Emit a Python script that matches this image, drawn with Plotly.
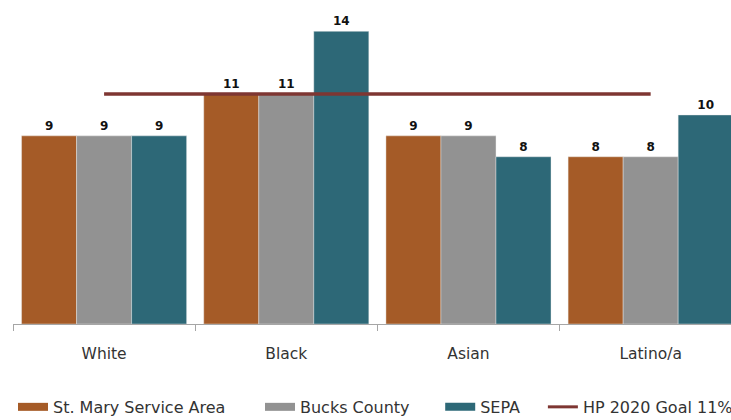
import plotly.graph_objects as go

# Categories and series values
groups = ["White", "Black", "Asian", "Latino/a"]
st_mary = [9, 11, 9, 8]
bucks = [9, 11, 9, 8]
sepa = [9, 14, 8, 10]
hp_goal = [11, 11, 11, 11]

series = [
    ("St. Mary Service Area", st_mary, "#A55B27", "legend"),
    ("Bucks County", bucks, "#929292", "legend2"),
    ("SEPA", sepa, "#2D6877", "legend3"),
]
goal_name = "HP 2020 Goal 11%"
goal_color = "#7E3632"

FONT = "DejaVu Sans"
TEXT_COLOR = "#333333"

fig = go.Figure()

for name, vals, color, lg in series:
    fig.add_trace(go.Bar(
        x=groups, y=vals, name=name,
        marker=dict(color=color, line=dict(color="rgba(235,235,235,0.7)", width=0.6)),
        text=vals, texttemplate="<b>%{text}</b>", textposition="outside",
        textfont=dict(family=FONT, size=12, color="#111111"),
        cliponaxis=False, showlegend=False, legendgroup=name,
    ))

fig.add_trace(go.Scatter(
    x=groups, y=hp_goal, name=goal_name, mode="lines",
    line=dict(color=goal_color, width=3.5),
    showlegend=False, legendgroup=goal_name,
))

# Legend entries drawn as wide swatches, one legend per series
for name, vals, color, lg in series:
    fig.add_trace(go.Scatter(
        x=[None], y=[None], mode="lines", name=name,
        line=dict(color=color, width=8), legend=lg, legendgroup=name,
    ))
fig.add_trace(go.Scatter(
    x=[None], y=[None], mode="lines", name=goal_name,
    line=dict(color=goal_color, width=3), legend="legend4", legendgroup=goal_name,
))

legend_style = dict(
    orientation="h", yanchor="middle", xanchor="left", y=-0.256,
    bgcolor="rgba(0,0,0,0)", font=dict(family=FONT, size=16, color=TEXT_COLOR),
)

fig.update_layout(
    width=731, height=420,
    margin=dict(l=13, r=0, t=0, b=96, autoexpand=False),
    plot_bgcolor="white", paper_bgcolor="white",
    barmode="group", bargap=0.094, bargroupgap=0,
    xaxis=dict(
        type="category", range=[-0.5, 3.441],
        showline=True, linecolor="#A6A6A6", linewidth=1,
        ticks="outside", tickson="boundaries", ticklen=6, tickcolor="#A6A6A6",
        tickfont=dict(family=FONT, size=15.5, color=TEXT_COLOR),
        ticklabelstandoff=15, showgrid=False, zeroline=False,
    ),
    yaxis=dict(range=[0, 15.5], visible=False, showgrid=False, zeroline=False),
    legend=dict(x=0.0, **legend_style),
    legend2=dict(x=0.344, **legend_style),
    legend3=dict(x=0.595, **legend_style),
    legend4=dict(x=0.738, **legend_style),
)

fig.write_html("out.html")
